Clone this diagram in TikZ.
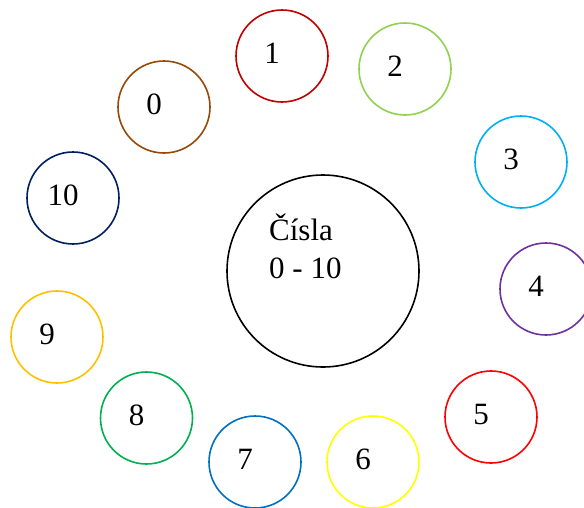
\documentclass[tikz,border=0pt]{standalone}
\usepackage{fontspec}
\setmainfont{Liberation Serif}
\definecolor{c0}{HTML}{984807}
\definecolor{c1}{HTML}{C00000}
\definecolor{c2}{HTML}{92D050}
\definecolor{c3}{HTML}{00B0F0}
\definecolor{c4}{HTML}{7030A0}
\definecolor{c5}{HTML}{FF0000}
\definecolor{c6}{HTML}{FFFF00}
\definecolor{c7}{HTML}{0070C0}
\definecolor{c8}{HTML}{00B050}
\definecolor{c9}{HTML}{FFC000}
\definecolor{c10}{HTML}{002060}
\begin{document}
\begin{tikzpicture}[x=1pt,y=-1pt,
  ring/.style={circle,draw=#1,line width=1.6pt,minimum size=92pt,inner sep=0pt},
  num/.style={anchor=base,inner sep=0pt,font=\fontsize{31}{37}\selectfont}]
\useasboundingbox (0,0) rectangle (584,507);
\clip (0,0) rectangle (584,507);
\node[circle,draw=black,line width=1.6pt,minimum size=192pt,inner sep=0pt] (main) at (323,271) {};
\node[anchor=base west,inner sep=0pt,align=left,font=\fontsize{31}{38}\selectfont] (title) at (269,278) {Čísla\\0 - 10};
\foreach \n/\x/\y in {1/282/56, 2/405/69, 3/521/162, 4/546/289, 5/491/417, 6/373/462, 7/255/462, 8/146.5/418, 9/57/337, 10/73/198, 0/164/107} {
  \node[ring=c\n] (r\n) at (\x,\y) {};
  \node[num] (t\n) at ([shift={(-10,7)}]r\n.center) {\n};
}
\end{tikzpicture}
\end{document}
